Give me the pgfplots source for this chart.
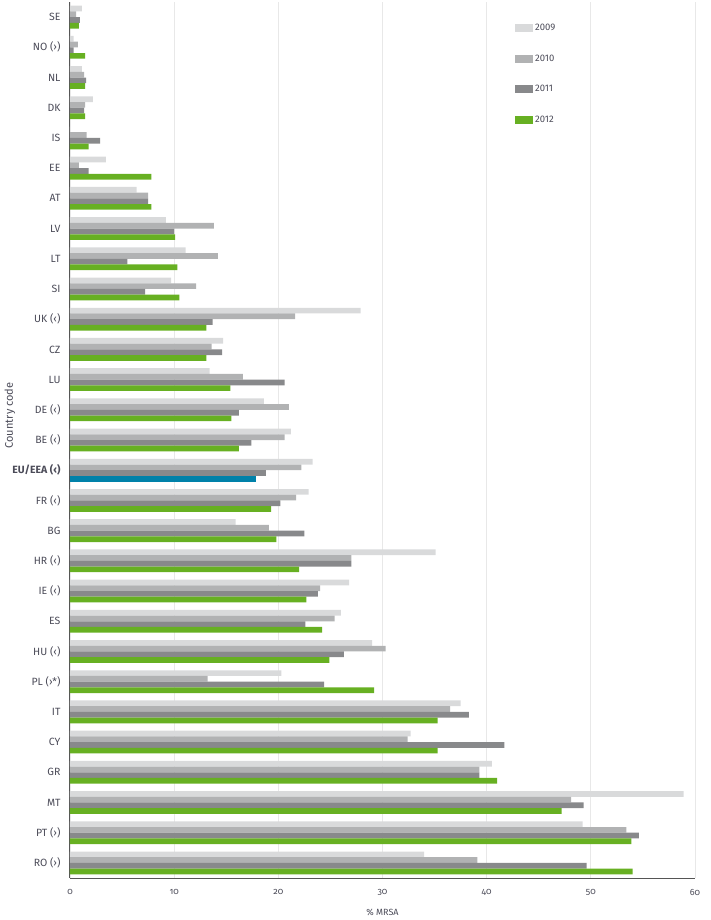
\documentclass[border=0pt]{standalone}
\usepackage{fontspec}
\setmainfont{Fira Sans}
\usepackage{pgfplots}
\usepackage{pgfplotstable}
\pgfplotsset{compat=1.18}
\definecolor{c09}{HTML}{D9DADB}
\definecolor{c10}{HTML}{B1B2B3}
\definecolor{c11}{HTML}{88898B}
\definecolor{c12}{HTML}{67B022}
\definecolor{ceu}{HTML}{0081A9}
\definecolor{gridc}{HTML}{E8E8E8}
\definecolor{axc}{HTML}{555555}
\definecolor{labc}{HTML}{4B4B58}
\pgfplotstableread{
idx y09 y10 y11 y12
0 1.15 0.6 0.95 0.85
1 0.35 0.75 0.35 1.45
2 1.15 1.35 1.55 1.45
3 2.2 1.45 1.35 1.45
4 0.0 1.6 2.9 1.8
5 3.45 0.85 1.8 7.8
6 6.4 7.5 7.5 7.8
7 9.2 13.8 10.0 10.1
8 11.1 14.2 5.5 10.3
9 9.7 12.1 7.2 10.5
10 27.9 21.6 13.7 13.1
11 14.7 13.6 14.6 13.1
12 13.4 16.6 20.6 15.4
13 18.6 21.0 16.2 15.5
14 21.2 20.6 17.4 16.2
15 23.3 22.2 18.8 17.9
16 22.9 21.7 20.2 19.3
17 15.9 19.1 22.5 19.8
18 35.1 27.0 27.0 22.0
19 26.8 24.0 23.8 22.7
20 26.0 25.4 22.6 24.2
21 29.0 30.3 26.3 24.9
22 20.3 13.2 24.4 29.2
23 37.5 36.5 38.3 35.3
24 32.7 32.4 41.7 35.3
25 40.5 39.3 39.3 41.0
26 58.9 48.1 49.3 47.2
27 49.2 53.4 54.6 53.9
28 34.0 39.1 49.6 54.0
}\data
\begin{document}
\begin{tikzpicture}
\path[use as bounding box] (-70pt,-42pt) rectangle (640pt,878pt);
\begin{axis}[
  at={(0pt,0pt)}, anchor=south west,
  scale only axis, width=625pt, height=876pt,
  xbar, bar width=5.7pt,
  xmin=0, xmax=60, ymin=-0.5, ymax=28.5, y dir=reverse,
  enlargelimits=false,
  xtick={0,10,...,60}, ytick={0,...,28},
  yticklabels={SE, NO (›), NL, DK, IS, EE, AT, LV, LT, SI, UK (‹), CZ, LU, DE (‹), BE (‹), {\bfseries EU/EEA (‹)}, FR (‹), BG, HR (‹), IE (‹), ES, HU (‹), PL (›*), IT, CY, GR, MT, PT (›), RO (›)},
  major tick length=0pt,
  xmajorgrids, grid style={draw=gridc, line width=0.8pt},
  axis x line*=bottom, axis y line*=left,
  axis line style={draw=axc, line width=1pt},
  /pgf/number format/assume math mode=true,
  xticklabel style={font=\fontsize{9}{10}\selectfont\addfontfeatures{Numbers=OldStyle}, text=labc, yshift=-8pt},
  yticklabel style={font=\fontsize{10.5}{12}\selectfont, text=labc, xshift=-6pt},
  xlabel={\% MRSA},
  xlabel style={at={(rel axis cs:0.5,0)}, anchor=center, yshift=-34pt, font=\fontsize{9}{10}\selectfont, text=labc},
  ylabel={Country code},
  ylabel style={at={(rel axis cs:0,0.528)}, anchor=center, yshift=60pt, font=\fontsize{11}{13}\selectfont, text=labc},
  legend style={at={(rel axis cs:0.712,0.977)}, anchor=north west, draw=none, fill=none,
    font=\fontsize{9.5}{11}\selectfont, text=labc, row sep=18.5pt, inner sep=0pt},
  legend cell align=left,
  legend image code/.code={\path[#1] (0pt,-4pt) rectangle (18pt,4pt);},
]
\addplot[fill=c09, draw=none, bar shift=8.55pt] table[x=y09, y=idx]{\data};
\addplot[fill=c10, draw=none, bar shift=2.85pt] table[x=y10, y=idx]{\data};
\addplot[fill=c11, draw=none, bar shift=-2.85pt] table[x=y11, y=idx]{\data};
\addplot[fill=c12, draw=none, bar shift=-8.55pt, skip coords between index={15}{16}] table[x=y12, y=idx]{\data};
\addplot[fill=ceu, draw=none, bar shift=-8.55pt, forget plot] coordinates {(17.9,15)};
\legend{2009, 2010, 2011, 2012}
\end{axis}
\end{tikzpicture}
\end{document}
